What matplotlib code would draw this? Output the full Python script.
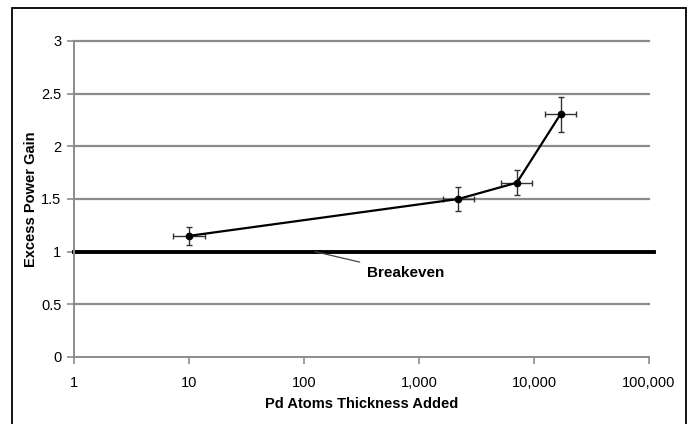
import matplotlib
matplotlib.use("Agg")
import matplotlib.pyplot as plt
from matplotlib.patches import Rectangle
from matplotlib.ticker import FixedLocator, FuncFormatter, NullLocator

plt.rcParams['font.family'] = ['Liberation Sans', 'DejaVu Sans']

# data
thickness = [10, 2200, 7100, 17000]
gain = [1.15, 1.5, 1.655, 2.305]
gain_err = [0.087, 0.11, 0.12, 0.166]
thick_err_lo = [2.7, 590, 1900, 4550]
thick_err_hi = [3.65, 800, 2600, 6200]
x_ticks = [1, 10, 100, 1000, 10000, 100000]
y_ticks = [0, 0.5, 1, 1.5, 2, 2.5, 3]
breakeven = 1.0

fig = plt.figure(figsize=(6.9, 4.24), dpi=100)
ax = fig.add_axes([74 / 690, 1 - 357 / 424, 575 / 690, 316 / 424])

# border around the whole figure (bottom edge falls off the image)
fig.patches.append(Rectangle((12 / 690, -0.05), 674 / 690, 1 - 8 / 424 + 0.05,
                             transform=fig.transFigure, fill=False,
                             edgecolor='black', linewidth=1.3))

ax.set_xscale('log')
ax.set_xlim(1, 100000)
ax.set_ylim(0, 3)

for y in y_ticks[1:]:
    if y != breakeven:
        ax.axhline(y, color='#8c8c8c', linewidth=1.6, zorder=1, clip_on=False)

ax.axhline(breakeven, xmin=0, xmax=1.008, color='black', linewidth=2.8,
           zorder=2, clip_on=False)

ax.errorbar(thickness, gain, yerr=gain_err, xerr=[thick_err_lo, thick_err_hi],
            fmt='none', ecolor='#333333', elinewidth=1.0, capsize=2.5,
            capthick=1.0, zorder=3)
ax.plot(thickness, gain, color='black', linewidth=1.6, marker='o',
        markersize=4.5, zorder=4)

ax.annotate('Breakeven', xy=(125, 1.0), xytext=(350, 0.80),
            fontsize=11, fontweight='bold', va='center', ha='left',
            arrowprops=dict(arrowstyle='-', color='#444444', linewidth=0.9,
                            shrinkA=3, shrinkB=0))

for s in ['top', 'right']:
    ax.spines[s].set_visible(False)
for s in ['left', 'bottom']:
    ax.spines[s].set_color('#8c8c8c')
    ax.spines[s].set_linewidth(1.4)

ax.xaxis.set_major_locator(FixedLocator(x_ticks))
ax.xaxis.set_minor_locator(NullLocator())
ax.xaxis.set_major_formatter(FuncFormatter(lambda v, p: f"{int(round(v)):,}"))
ax.set_yticks(y_ticks)
ax.set_yticklabels(['0', '0.5', '1', '1.5', '2', '2.5', '3'])
ax.tick_params(axis='both', direction='out', length=5, width=1.2,
               color='#8c8c8c', labelsize=10.5)
ax.tick_params(axis='x', pad=9)
ax.tick_params(axis='y', pad=4)

ax.set_xlabel('Pd Atoms Thickness Added', fontsize=10.5, fontweight='bold',
              labelpad=5)
ax.set_ylabel('Excess Power Gain', fontsize=10.5, fontweight='bold',
              labelpad=2)

fig.savefig('out.png', dpi=100)
